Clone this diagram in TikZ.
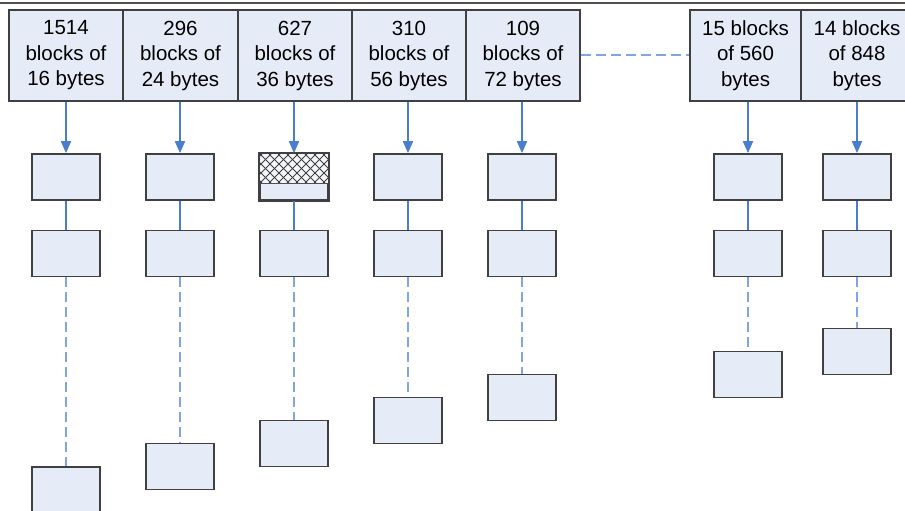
\documentclass[tikz,border=0pt]{standalone}
\usepackage{fontspec}
\setmainfont{Liberation Sans}
\usetikzlibrary{arrows.meta}
\definecolor{boxfill}{HTML}{E6ECF7}
\definecolor{boxline}{HTML}{404040}
\definecolor{linkblue}{HTML}{4A7DCB}
\definecolor{dashblue}{HTML}{80A5E2}
\definecolor{rulegray}{HTML}{505050}
\begin{document}
\begin{tikzpicture}[x=1pt,y=-1pt,
  hdr/.style={draw=boxline,fill=boxfill,line width=1.4pt,minimum width=114pt,
    minimum height=91pt,inner sep=0pt,align=center,
    font=\fontsize{20.5}{25.5}\selectfont},
  blk/.style={draw=boxline,fill=boxfill,line width=1.7pt,minimum width=68pt,
    minimum height=46pt,inner sep=0pt},
  feed/.style={linkblue,line width=1.8pt,-{Triangle[width=10pt,length=12pt]}},
  link/.style={linkblue,line width=1.8pt},
  more/.style={dashblue,line width=1.8pt,dash pattern=on 10pt off 5pt}]
\useasboundingbox (0,0) rectangle (905,511);
\clip (0,0) rectangle (905,511);

% rule along the top edge
\draw[rulegray,line width=1.4pt] (0,3) -- (905,3);

% size-class headers
\node[hdr] (h1) at (66,55.5)    {1514\\blocks of\\16 bytes};
\node[hdr] (h2) at (180.5,55.5) {296\\blocks of\\24 bytes};
\node[hdr] (h3) at (295,55.5)   {627\\blocks of\\36 bytes};
\node[hdr] (h4) at (409,55.5)   {310\\blocks of\\56 bytes};
\node[hdr] (h5) at (523,55.5)   {109\\blocks of\\72 bytes};
\node[hdr,minimum width=111pt] (h6) at (745.5,55.5) {15 blocks\\of 560\\bytes};
\node[hdr,minimum width=112pt] (h7) at (857,55.5)   {14 blocks\\of 848\\bytes};

% free blocks of each class: first, second and last
\foreach \n/\x/\yl in {1/66/490, 2/180/466.5, 3/294/443.5, 4/408/420.5,
                       5/522/397.5, 6/748/374.5, 7/857/351.5} {
  \node[blk] (a\n) at (\x,177) {};
  \node[blk] (b\n) at (\x,253.5) {};
  \node[blk] (c\n) at (\x,\yl) {};
}

% the partly used block of the 36-byte class
\begin{scope}
  \clip (a3.north west) rectangle (328,183);
  \fill[white!50!boxfill] (a3.north west) rectangle (328,183);
  \foreach \i in {0,...,12} {
    \draw[boxline,line width=0.8pt] (224+9*\i,154) -- ++(29,29);
    \draw[boxline,line width=0.8pt] (224+9*\i,183) -- ++(29,-29);
  }
\end{scope}
\draw[rulegray,line width=1pt] (a3.west |- 0,183) -- (a3.east |- 0,183);
\draw[boxline,line width=1.7pt] (a3.north west) rectangle (a3.south east);

% lists hanging from each header
\foreach \n in {1,...,7} {
  \draw[feed] (h\n.south -| a\n.north) -- (a\n.north);
  \draw[link] (a\n.south) -- (b\n.north);
  \draw[more] (b\n.south) -- (c\n.north);
}

% gap between the small and the large classes
\draw[more] (h5.east |- 0,55) -- (h6.west |- 0,55);
\end{tikzpicture}
\end{document}
